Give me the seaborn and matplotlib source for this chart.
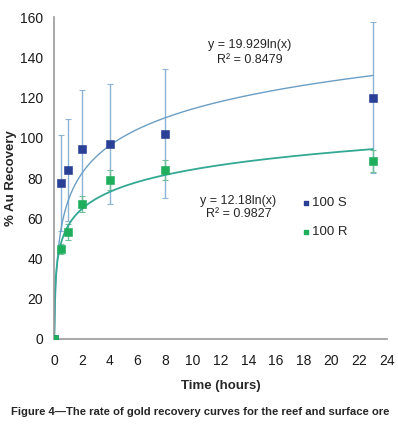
import matplotlib
matplotlib.use("Agg")
import matplotlib.pyplot as plt
import numpy as np
import pandas as pd
import seaborn as sns

# data
time_h = [0, 0.5, 1, 2, 4, 8, 23]
rec_s = [0, 77.5, 84, 94.5, 97, 102, 120]
err_s = [0, 24, 25.5, 29.5, 30, 32, 37.5]
rec_r = [0, 44.5, 53, 67, 79, 84, 88.5]
err_r = [0, 2.5, 4, 4, 5, 5, 5.5]

# log fits y = a*ln(x) + b
fit_s = (19.929, 68.5)
fit_r = (12.18, 56.2)

sns.set_style("white")
plt.rcParams["font.family"] = ["Liberation Sans", "DejaVu Sans"]

blue_pt = "#2a3f96"
green_pt = "#1fae5c"
blue_line = "#6b9ec4"
green_line = "#33a893"
err_blue = "#8db4d6"
err_green = "#6fbf9a"
axis_gray = "#9a9a9a"

fig = plt.figure(figsize=(3.98, 4.28), dpi=100)
ax = fig.add_axes([0.136, 0.208, 0.836, 0.752])

df = pd.DataFrame({"time": time_h, "S": rec_s, "R": rec_r})

xs = np.linspace(0.01, 23, 600)
fits = pd.DataFrame({
    "time": xs,
    "S": fit_s[0] * np.log(xs) + fit_s[1],
    "R": fit_r[0] * np.log(xs) + fit_r[1],
})
fits[["S", "R"]] = fits[["S", "R"]].clip(lower=0)

ax.errorbar(time_h, rec_s, yerr=err_s, fmt="none", ecolor=err_blue, elinewidth=1.0, capsize=2, capthick=0.8)
ax.errorbar(time_h, rec_r, yerr=err_r, fmt="none", ecolor=err_green, elinewidth=1.0, capsize=2, capthick=0.8)

sns.lineplot(data=fits, x="time", y="S", ax=ax, color=blue_line, linewidth=1.0)
sns.lineplot(data=fits, x="time", y="R", ax=ax, color=green_line, linewidth=1.3)

sns.scatterplot(data=df, x="time", y="S", ax=ax, marker="s", s=28, color=blue_pt, edgecolor=blue_pt, zorder=5)
sns.scatterplot(data=df, x="time", y="R", ax=ax, marker="s", s=28, color=green_pt, edgecolor=green_pt, zorder=6)

ax.set_xlim(0, 24)
ax.set_ylim(0, 160)
ax.set_xticks(range(0, 25, 2))
ax.set_yticks(range(0, 161, 20))
ax.margins(0)

for side in ["top", "right"]:
    ax.spines[side].set_visible(False)
for side in ["left", "bottom"]:
    ax.spines[side].set_color(axis_gray)
    ax.spines[side].set_linewidth(1.2)
ax.tick_params(axis="both", direction="inout", length=6, width=1, color=axis_gray,
               labelsize=10, pad=5, labelcolor="#1a1a1a")
ax.tick_params(axis="x", pad=8)

ax.set_xlabel("Time (hours)", fontsize=9.5, fontweight="bold")
ax.set_ylabel("% Au Recovery", fontsize=9.5, fontweight="bold")
ax.xaxis.set_label_coords(0.5, -0.127)
ax.yaxis.set_label_coords(-0.111, 0.5)

ax.text(14.1, 146, "y = 19.929ln(x)", ha="center", va="center", fontsize=9)
ax.text(14.1, 138.6, "R² = 0.8479", ha="center", va="center", fontsize=9)
ax.text(13.3, 68.6, "y = 12.18ln(x)", ha="center", va="center", fontsize=9)
ax.text(13.3, 62.1, "R² = 0.9827", ha="center", va="center", fontsize=9)

# legend entries
ax.scatter([18.2], [67.6], marker="s", s=12, color=blue_pt, clip_on=False)
ax.text(18.6, 67.6, "100 S", va="center", fontsize=9.5)
ax.scatter([18.2], [53.2], marker="s", s=12, color=green_pt, clip_on=False)
ax.text(18.6, 53.2, "100 R", va="center", fontsize=9.5)

fig.text(0.027, 0.03, "Figure 4\u2014The rate of gold recovery curves for the reef and surface ore",
         fontsize=8.1, fontweight="bold")

fig.savefig("out.png", dpi=100)
